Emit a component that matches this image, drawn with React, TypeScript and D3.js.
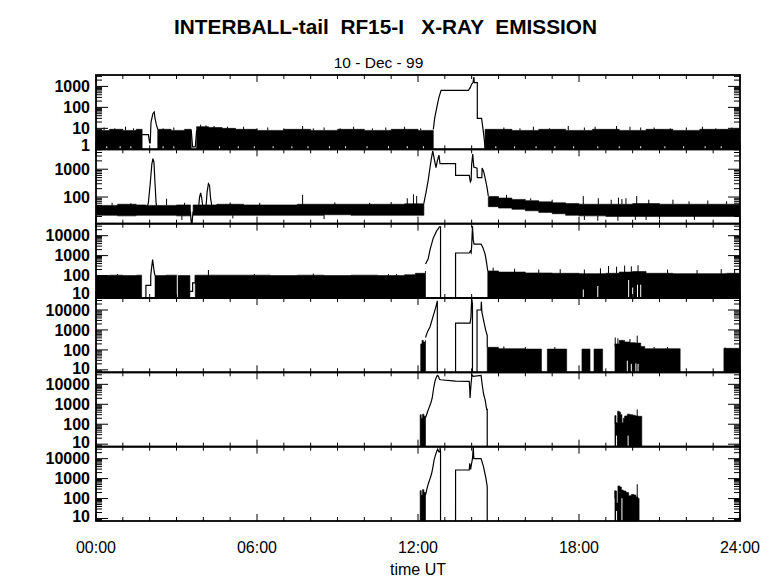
import React from "react";
import * as d3 from "d3";

type Row = [number, number, number] | null;
type Pt = [number, number] | null;

const TITLE = "INTERBALL-tail  RF15-I   X-RAY  EMISSION";
const DATE_LABEL = "10 - Dec - 99";
const X_LABEL = "time UT";
const X_MAJOR = [0, 6, 12, 18, 24];
const X_MAJOR_LABELS = ["00:00", "06:00", "12:00", "18:00", "24:00"];

const PANEL_DOMAINS: [number, number][] = [
  [1, 3500],
  [11, 5200],
  [7.5, 40000],
  [7.5, 40000],
  [7.5, 40000],
  [7.5, 40000],
];
const PANEL_TICK_LABELS: number[][] = [
  [1, 10, 100, 1000],
  [100, 1000],
  [10, 100, 1000, 10000],
  [10, 100, 1000, 10000],
  [10, 100, 1000, 10000],
  [10, 100, 1000, 10000],
];

// ---------- noise bands: [hour, low, high] ----------
const P1_BAND: Row[] = [
  [0, 1, 8], [0.5, 1, 9], [1.0, 1, 8], [1.5, 1, 9], [1.72, 1, 8], null,
  [2.3, 1, 9], [2.8, 1, 8], [3.3, 1, 9], [3.55, 1, 8], null,
  [3.75, 1, 12], [4.2, 1, 11], [4.7, 1, 10], [5.2, 1, 9], [6, 1, 8], [7, 1, 9], [8, 1, 8], [9, 1, 9],
  [10, 1, 8], [11, 1, 9], [12, 1, 8], [12.57, 1, 8], null,
  [14.5, 1, 9], [15.5, 1, 8], [16.5, 1, 9], [17.5, 1, 8], [18.5, 1, 9], [19.5, 1, 8], [20.5, 1, 9],
  [21.5, 1, 8], [22.5, 1, 9], [23.5, 1, 9], [24, 1, 9],
];
const P2_BAND: Row[] = [
  [0, 22, 50], [0.8, 21, 55], [1.5, 22, 52], [1.86, 22, 50], [2.28, 22, 50], [3.0, 21, 52], [3.52, 22, 50], null,
  [3.62, 22, 52], [4.5, 22, 55], [5.5, 22, 52], [6.5, 22, 52], [7.5, 22, 55], [8.5, 23, 55], [9.5, 22, 55],
  [10.5, 22, 55], [11.5, 22, 57], [12.22, 25, 60], null,
  [14.62, 45, 105], [15, 40, 92], [15.5, 36, 82], [16, 32, 74], [16.5, 28, 67], [17, 25, 62], [17.5, 22, 58],
  [18, 21, 55], [19, 20, 55], [20, 20, 58], [21, 20, 55], [22, 20, 55], [23, 20, 55], [24, 20, 55],
];
const P3_BAND: Row[] = [
  [0, 7.5, 100], [0.5, 7.5, 105], [1, 7.5, 100], [1.5, 7.5, 105], [1.7, 7.5, 100], null,
  [2.2, 7.5, 100], [2.6, 7.5, 105], [3.03, 7.5, 100], [3.5, 7.5, 100], null,
  [3.7, 7.5, 105], [4.5, 7.5, 105], [5.5, 7.5, 105], [6.5, 7.5, 100], [7.5, 7.5, 105], [8.5, 7.5, 100],
  [9.5, 7.5, 105], [10.5, 7.5, 100], [11.5, 7.5, 110], [11.9, 7.5, 130], [12.28, 7.5, 170], null,
  [14.6, 7.5, 170], [15, 7.5, 150], [16, 7.5, 135], [17, 7.5, 130], [18, 7.5, 125], [19, 7.5, 130],
  [19.5, 7.5, 150], [20, 7.5, 160], [20.5, 7.5, 130], [21.5, 7.5, 125], [22.5, 7.5, 125], [23.5, 7.5, 130], [24, 7.5, 130],
];
const P4_BAND: Row[] = [
  [12.1, 7.5, 200], [12.15, 7.5, 300], [12.2, 7.5, 250], [12.28, 7.5, 300], null,
  [14.58, 7.5, 135], [15, 7.5, 115], [16, 7.5, 110], [16.6, 7.5, 110], null,
  [16.82, 7.5, 110], [17.54, 7.5, 110], null,
  [18.11, 7.5, 110], [18.41, 7.5, 110], null,
  [18.56, 7.5, 110], [18.88, 7.5, 110], null,
  [19.34, 7.5, 200], [19.5, 7.5, 300], [19.7, 7.5, 250], [19.9, 7.5, 230], [20.1, 7.5, 220], [20.3, 7.5, 150],
  [20.45, 7.5, 115], [21.77, 7.5, 115], null,
  [23.4, 7.5, 120], [24, 7.5, 110],
];
const P5_BAND: Row[] = [
  [12.08, 7.5, 300], [12.12, 7.5, 200], [12.17, 7.5, 320], [12.22, 7.5, 250], [12.28, 7.5, 210], null,
  [19.34, 7.5, 270], [19.38, 7.5, 120], [19.44, 7.5, 450], [19.5, 7.5, 400], [19.55, 7.5, 300], [19.6, 7.5, 120],
  [19.65, 7.5, 200], [19.7, 7.5, 260], [19.8, 7.5, 320], [19.9, 7.5, 300], [20.0, 7.5, 280], [20.1, 7.5, 260],
  [20.2, 7.5, 250], [20.34, 7.5, 130],
];
const P6_BAND: Row[] = [
  [12.08, 7.5, 250], [12.12, 7.5, 150], [12.17, 7.5, 280], [12.22, 7.5, 200], [12.28, 7.5, 150], null,
  [19.34, 7.5, 240], [19.4, 7.5, 60], [19.45, 7.5, 430], [19.52, 7.5, 380], [19.58, 7.5, 270], [19.65, 7.5, 240],
  [19.75, 7.5, 200], [19.85, 7.5, 140], [19.95, 7.5, 160], [20.05, 7.5, 150], [20.12, 7.5, 120], [20.2, 7.5, 100],
  [20.24, 7.5, 48],
];

// ---------- traced curves: [hour, value] ----------
const P1_TRACE: Pt[] = [
  [1.72, 5], [1.95, 5], [2.0, 2], [2.02, 2], [2.05, 20], [2.12, 50], [2.17, 60], [2.2, 30], [2.25, 15], [2.3, 9], null,
  [3.55, 8], [3.6, 1.3], [3.7, 1.3], [3.75, 8], null,
  [12.57, 9], [12.62, 30], [12.7, 100], [12.78, 300], [12.86, 650], [13.88, 650], [13.95, 900], [14.0, 1300],
  [14.05, 1500], [14.08, 2800], [14.1, 1500], [14.21, 1500], [14.21, 30], [14.37, 30], [14.42, 10], [14.47, 3], [14.5, 1],
];
const P2_TRACE: Pt[] = [
  [1.86, 35], [1.95, 60], [2.02, 300], [2.08, 1500], [2.12, 2400], [2.16, 1800], [2.2, 300], [2.24, 60], [2.28, 35], null,
  [3.52, 30], [3.54, 15], [3.56, 11], [3.58, 11], [3.6, 20], [3.62, 30], null,
  [3.82, 40], [3.86, 100], [3.9, 140], [3.94, 90], [3.98, 45], null,
  [4.1, 45], [4.14, 150], [4.19, 300], [4.23, 260], [4.27, 90], [4.32, 45], null,
  [12.22, 60], [12.3, 150], [12.38, 400], [12.45, 1200], [12.5, 2500], [12.55, 4600], [12.6, 2500], [12.67, 1150],
  [12.72, 2000], [12.78, 3200], [12.82, 1600], [13.4, 1600], [13.4, 600], [13.91, 600], [13.95, 350], [13.98, 400],
  [14.0, 1500], [14.04, 3500], [14.08, 1200], [14.2, 1100], [14.21, 500], [14.38, 500], [14.39, 1100], [14.45, 800],
  [14.52, 400], [14.58, 200], [14.62, 110],
];
const P3_TRACE: Pt[] = [
  [1.7, 7.6], [1.86, 7.6], [1.86, 32], [2.04, 32], [2.04, 100], [2.08, 300], [2.11, 630], [2.14, 300], [2.17, 150], [2.2, 100], null,
  [3.5, 16], [3.6, 16], [3.6, 43], [3.7, 43], [3.7, 100], null,
  [12.28, 380], [12.38, 700], [12.45, 2000], [12.57, 7700], [12.65, 13000], [12.7, 18000], [12.75, 22000], [12.8, 28000],
  [12.84, 28000], [12.84, 7.5], null,
  [13.4, 7.5], [13.4, 1350], [13.91, 1350], [13.95, 1700], [13.98, 1400], [14.0, 3000], [14.03, 30000], [14.06, 6000],
  [14.09, 3800], [14.35, 3800], [14.42, 2500], [14.5, 1200], [14.55, 500], [14.58, 260], [14.6, 170],
];
const P4_TRACE: Pt[] = [
  [12.28, 420], [12.35, 800], [12.45, 1450], [12.57, 5200], [12.65, 12000], [12.69, 19000], [12.72, 29000], [12.72, 7.5], null,
  [13.4, 7.5], [13.4, 2200], [13.94, 2200], [13.97, 4000], [14.0, 36000], [14.03, 20000], [14.03, 7.5], null,
  [14.2, 7.5], [14.2, 10000], [14.35, 10000], [14.36, 26000], [14.38, 8000], [14.46, 2400], [14.52, 1000], [14.58, 520], [14.58, 135],
];
const P5_TRACE: Pt[] = [
  [12.28, 210], [12.35, 400], [12.41, 660], [12.48, 1200], [12.53, 2100], [12.58, 6000], [12.63, 14000], [12.68, 22000],
  [12.72, 28000], [12.76, 26000], [12.8, 18000], [12.84, 17000], [13.4, 14500], [13.91, 14000], [13.93, 5000],
  [13.94, 2100], [13.97, 8000], [14.01, 30000], [14.06, 25000], [14.35, 28000], [14.4, 8000], [14.45, 3000],
  [14.5, 1700], [14.56, 550], [14.58, 550], [14.58, 7.5],
];
const P6_TRACE: Pt[] = [
  [12.28, 150], [12.33, 300], [12.39, 590], [12.45, 1000], [12.51, 1850], [12.56, 4000], [12.6, 8700], [12.65, 15000],
  [12.69, 22000], [12.73, 30000], [12.78, 22000], [12.82, 22000], [12.82, 38000], [12.84, 22000], [12.84, 7.5], null,
  [13.4, 7.5], [13.4, 2700], [13.91, 2700], [13.93, 5800], [13.96, 2900], [14.0, 6000], [14.03, 10000], [14.06, 38000],
  [14.08, 10000], [14.35, 10000], [14.44, 4000], [14.53, 1050], [14.58, 400], [14.58, 7.5],
];

// ---------- spikes (black) and gaps (white): [hour, from, to] ----------
const P1_SPIKES: [number, number, number][] = [
  [0.3, 8, 11], [0.7, 8, 10], [1.1, 8, 12], [1.4, 8, 10], [2.5, 8, 10], [2.9, 8, 11], [3.9, 10, 15], [4.1, 10, 14],
  [4.4, 9, 13], [4.9, 9, 12], [5.5, 8, 12], [6.0, 8, 10], [6.4, 8, 11], [7.0, 8, 10], [7.7, 8, 13], [8.1, 8, 10],
  [8.5, 8, 11], [9.1, 8, 10], [9.6, 8, 12], [10.3, 8, 10], [10.8, 8, 11], [11.5, 8, 12], [12.1, 8, 10],
  [15.2, 8, 11], [15.8, 8, 10], [16.3, 8, 12], [16.9, 8, 10], [17.6, 8, 13], [18.2, 8, 11], [18.6, 8, 12],
  [19.4, 8, 13], [19.9, 8, 12], [20.3, 8, 11], [20.8, 8, 11], [21.4, 8, 10], [22.0, 8, 11], [22.6, 8, 12],
  [23.1, 8, 10], [23.7, 8, 11],
];
const P1_GAPS: [number, number, number][] = [
  [0.4, 1, 1.4], [0.9, 1, 1.4], [1.3, 1, 1.4], [2.5, 1, 1.4], [2.9, 1, 1.4], [4.6, 1, 1.4], [5.3, 1, 1.4],
  [5.9, 1, 1.4], [6.6, 1, 1.4], [7.3, 1, 1.4], [7.9, 1, 1.4], [8.7, 1, 1.4], [9.3, 1, 1.4], [10.1, 1, 1.4],
  [10.9, 1, 1.4], [11.6, 1, 1.4], [12.2, 1, 1.4], [14.9, 1, 1.4], [15.6, 1, 1.4], [16.4, 1, 1.4], [17.1, 1, 1.4],
  [17.8, 1, 1.4], [18.7, 1, 1.4], [19.5, 1, 1.4], [20.3, 1, 1.4], [21.2, 1, 1.4], [21.9, 1, 1.4], [22.7, 1, 1.4], [23.3, 1, 1.4],
];
const P2_SPIKES: [number, number, number][] = [
  [2.63, 50, 87], [0.6, 50, 62], [1.3, 50, 60], [3.3, 50, 62], [5.0, 50, 64], [6.1, 50, 62], [7.7, 50, 120],
  [8.9, 50, 64], [10.2, 50, 62], [11.0, 50, 66], [11.6, 55, 90], [11.83, 55, 125], [11.95, 55, 110],
  [15.3, 90, 120], [16.2, 75, 90], [17.0, 60, 80], [18.16, 55, 108], [18.72, 55, 90], [19.2, 55, 80],
  [19.47, 55, 95], [19.6, 55, 85], [19.75, 55, 90], [20.15, 55, 108], [20.6, 55, 80], [21.5, 55, 80],
  [22.1, 55, 70], [22.8, 55, 75], [23.5, 55, 70],
  [3.2, 15, 22], [5.1, 17, 22], [8.5, 16, 22], [18.2, 15, 21], [18.7, 14, 21], [19.45, 14, 21], [20.1, 15, 21],
  [20.5, 15, 21], [21.0, 16, 21], [22.3, 15, 21],
];
const P2_GAPS: [number, number, number][] = [];
const P3_SPIKES: [number, number, number][] = [
  [4.19, 100, 190], [0.8, 100, 120], [5.9, 100, 120], [8.1, 100, 125], [10.9, 100, 120], [11.2, 100, 120],
  [14.8, 150, 250], [15.6, 130, 220], [16.5, 130, 200], [17.3, 130, 210], [18.2, 120, 200], [18.8, 120, 230],
  [19.1, 130, 300], [19.4, 130, 280], [19.7, 150, 320], [19.95, 150, 290], [20.2, 150, 330], [21.3, 120, 200],
  [22.4, 120, 190], [23.3, 120, 210], [23.8, 120, 200],
];
const P3_GAPS: [number, number, number][] = [
  [3.03, 7.5, 105], [18.16, 7.5, 20], [18.7, 7.5, 30], [19.85, 7.5, 60], [20.0, 7.5, 25], [20.18, 7.5, 35], [20.3, 7.5, 35],
];
const P4_SPIKES: [number, number, number][] = [
  [19.35, 150, 420], [19.45, 150, 380], [19.6, 150, 300], [19.9, 150, 350], [20.17, 150, 520], [15.2, 100, 150],
  [16.0, 100, 140], [17.1, 100, 140], [20.8, 100, 140], [21.3, 100, 140], [23.45, 100, 130],
];
const P4_GAPS: [number, number, number][] = [
  [19.8, 7.5, 29], [19.95, 7.5, 20], [20.12, 7.5, 21], [20.2, 7.5, 20],
];
const P5_SPIKES: [number, number, number][] = [[20.17, 200, 550], [19.35, 100, 270]];
const P5_GAPS: [number, number, number][] = [[19.4, 7.5, 27], [19.83, 7.5, 27]];
const P6_SPIKES: [number, number, number][] = [[20.17, 100, 520], [19.34, 100, 260]];
const P6_GAPS: [number, number, number][] = [[19.4, 7.5, 24], [19.6, 7.5, 104]];

const BANDS = [P1_BAND, P2_BAND, P3_BAND, P4_BAND, P5_BAND, P6_BAND];
const TRACES = [P1_TRACE, P2_TRACE, P3_TRACE, P4_TRACE, P5_TRACE, P6_TRACE];
const SPIKES = [P1_SPIKES, P2_SPIKES, P3_SPIKES, P4_SPIKES, P5_SPIKES, P6_SPIKES];
const GAPS = [P1_GAPS, P2_GAPS, P3_GAPS, P4_GAPS, P5_GAPS, P6_GAPS];

const W = 780;
const H = 579;
const LEFT = 96;
const RIGHT = 740;
const TOP = 75;
const BOTTOM = 521;
const FONT = "'Liberation Sans', Arial, Helvetica, sans-serif";

export default function App() {
  const x = d3.scaleLinear().domain([0, 24]).range([LEFT, RIGHT]);
  const ph = (BOTTOM - TOP) / 6;
  const hours = x.ticks(24);

  const panels = PANEL_DOMAINS.map((dom, i) => {
    const top = TOP + i * ph;
    const bot = top + ph;
    const y = d3.scaleLog().domain(dom).range([bot, top]);
    const area = d3
      .area<Row>()
      .defined((d) => d !== null)
      .x((d) => x((d as [number, number, number])[0]))
      .y0((d) => y((d as [number, number, number])[1]))
      .y1((d) => y((d as [number, number, number])[2]))
      .curve(d3.curveStepAfter);
    const line = d3
      .line<Pt>()
      .defined((d) => d !== null)
      .x((d) => x((d as [number, number])[0]))
      .y((d) => y((d as [number, number])[1]));
    const allTicks = y.ticks();
    const majors = PANEL_TICK_LABELS[i];
    const minors = allTicks.filter((v) => !majors.includes(v));
    const clipId = `clip${i}`;
    return (
      <g key={i}>
        <defs>
          <clipPath id={clipId}>
            <rect x={LEFT} y={top} width={RIGHT - LEFT} height={ph} />
          </clipPath>
        </defs>
        <g clipPath={`url(#${clipId})`}>
          <path d={area(BANDS[i]) || ""} fill="#000" stroke="#000" strokeWidth={0.6} />
          {SPIKES[i].map((s, k) => (
            <line key={"s" + k} x1={x(s[0])} x2={x(s[0])} y1={y(s[1])} y2={y(s[2])} stroke="#000" strokeWidth={1} />
          ))}
          {GAPS[i].map((s, k) => (
            <line key={"g" + k} x1={x(s[0])} x2={x(s[0])} y1={y(s[1])} y2={y(s[2])} stroke="#fff" strokeWidth={1} />
          ))}
          <path d={line(TRACES[i]) || ""} fill="none" stroke="#000" strokeWidth={1.2} />
        </g>
        {majors.map((v) => (
          <g key={"M" + v}>
            <line x1={LEFT} x2={LEFT + 12} y1={y(v)} y2={y(v)} stroke="#000" strokeWidth={1} />
            <line x1={RIGHT} x2={RIGHT - 12} y1={y(v)} y2={y(v)} stroke="#000" strokeWidth={1} />
            <text
              x={LEFT - 6}
              y={Math.min(y(v), bot - 4.5)}
              dy="0.36em"
              textAnchor="end"
              fontFamily={FONT}
              fontWeight="bold"
              fontSize={16}
            >
              {String(v)}
            </text>
          </g>
        ))}
        {minors.map((v) => (
          <g key={"m" + v}>
            <line x1={LEFT} x2={LEFT + 6} y1={y(v)} y2={y(v)} stroke="#000" strokeWidth={1} />
            <line x1={RIGHT} x2={RIGHT - 6} y1={y(v)} y2={y(v)} stroke="#000" strokeWidth={1} />
          </g>
        ))}
        {hours.map((h) => {
          const len = X_MAJOR.includes(h) ? 7 : 4;
          return (
            <g key={"h" + h}>
              <line x1={x(h)} x2={x(h)} y1={top} y2={top + len} stroke="#000" strokeWidth={1} />
              <line x1={x(h)} x2={x(h)} y1={bot} y2={bot - len} stroke="#000" strokeWidth={1} />
            </g>
          );
        })}
        <rect x={LEFT} y={top} width={RIGHT - LEFT} height={ph} fill="none" stroke="#000" strokeWidth={1.8} />
      </g>
    );
  });

  return (
    <svg
      width={W}
      height={H}
      viewBox={`0 0 ${W} ${H}`}
      style={{ position: "absolute", left: 0, top: 0, background: "#fff" }}
    >
      <rect x={0} y={0} width={W} height={H} fill="#fff" />
      <text
        x={385.5}
        y={34}
        textAnchor="middle"
        fontFamily={FONT}
        fontWeight="bold"
        fontSize={20.5}
        textLength={423}
        lengthAdjust="spacingAndGlyphs"
        style={{ whiteSpace: "pre" }}
      >
        {TITLE}
      </text>
      <text x={378.5} y={68} textAnchor="middle" fontFamily={FONT} fontSize={15.5}>
        {DATE_LABEL}
      </text>
      {panels}
      {X_MAJOR.map((h, i) => (
        <text key={h} x={x(h)} y={553} textAnchor="middle" fontFamily={FONT} fontSize={16}>
          {X_MAJOR_LABELS[i]}
        </text>
      ))}
      <text x={(LEFT + RIGHT) / 2} y={575} textAnchor="middle" fontFamily={FONT} fontSize={16}>
        {X_LABEL}
      </text>
    </svg>
  );
}
